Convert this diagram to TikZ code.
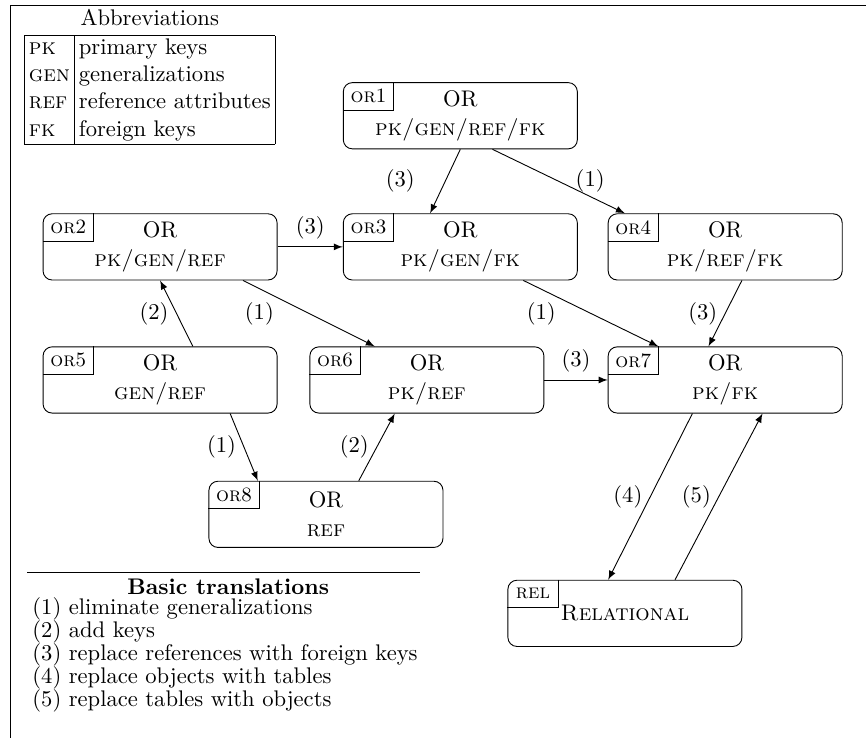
\documentclass[tikz,border=0pt]{standalone}
\usepackage{tikz}

\begin{document}
\begin{tikzpicture}[
  model/.style={draw, rounded corners, minimum width=3.64cm, minimum height=1.03cm, align=center},
  tag/.style={anchor=north west, minimum width=0.78cm, minimum height=0.42cm, inner sep=1pt, font=\small},
  trans/.style={-latex}]
\useasboundingbox (0,0) rectangle (13.47,-11.48);
% Frame on top and left
\draw (13.47,-0.08) -- (0.16,-0.08) -- (0.16,-11.48);
% Abbreviations
\node (abbrtitle) at (2.33,-0.28) {Abbreviations};
\node[inner sep=0pt] (abbr) at (2.33,-1.40) {\setlength{\tabcolsep}{2pt}%
  \begin{tabular}{|l|l|}\hline
  \textsc{pk}  & primary keys\\
  \textsc{gen} & generalizations\\
  \textsc{ref} & reference attributes\\
  \textsc{fk}  & foreign keys\\\hline
  \end{tabular}};
% Models
\node[model] (or1) at (7.16,-1.80) {OR\\[1pt]\textsc{pk/gen/ref/fk}};
\node[model] (or2) at (2.49,-3.84) {OR\\[1pt]\textsc{pk/gen/ref}};
\node[model] (or3) at (7.16,-3.84) {OR\\[1pt]\textsc{pk/gen/fk}};
\node[model] (or4) at (11.28,-3.84) {OR\\[1pt]\textsc{pk/ref/fk}};
\node[model] (or5) at (2.49,-5.91) {OR\\[1pt]\textsc{gen/ref}};
\node[model] (or6) at (6.64,-5.91) {OR\\[1pt]\textsc{pk/ref}};
\node[model] (or7) at (11.28,-5.91) {OR\\[1pt]\textsc{pk/fk}};
\node[model] (or8) at (5.07,-8.00) {OR\\[1pt]\textsc{ref}};
\node[model] (rel) at (9.72,-9.54) {\textsc{Relational}};
% Tags in the corners
\foreach \i in {1,...,8} {
  \node[tag] (tag\i) at (or\i.north west) {\textsc{or}\i};
  \draw (tag\i.north east) |- (tag\i.south west);
}
\node[tag] (tagrel) at (rel.north west) {\textsc{rel}};
\draw (tagrel.north east) |- (tagrel.south west);
% Translations
\draw[trans] (or1.south) -- node[left=10pt] {(3)} ([xshift=-0.47cm]or3.north);
\draw[trans] ([xshift=0.50cm]or1.south) -- node[right=4pt] {(1)} ([xshift=-1.56cm]or4.north);
\draw[trans] (or2) -- node[above] {(3)} (or3);
\draw[trans] ([xshift=1.29cm]or2.south) -- node[left=12pt] {(1)} ([xshift=-0.81cm]or6.north);
\draw[trans] ([xshift=0.98cm]or3.south) -- node[left=12pt] {(1)} ([xshift=-1.04cm]or7.north);
\draw[trans] ([xshift=0.26cm]or4.south) -- node[left] {(3)} ([xshift=-0.26cm]or7.north);
\draw[trans] ([xshift=0.51cm]or5.north) -- node[left] {(2)} (or2.south);
\draw[trans] (or6) -- node[above] {(3)} (or7);
\draw[trans] ([xshift=1.09cm]or5.south) -- node[left] {(1)} ([xshift=-1.06cm]or8.north);
\draw[trans] ([xshift=0.51cm]or8.north) -- node[left] {(2)} ([xshift=-0.50cm]or6.south);
\draw[trans] ([xshift=-0.51cm]or7.south) -- node[left] {(4)} ([xshift=-0.26cm]rel.north);
\draw[trans] ([xshift=0.78cm]rel.north) -- node[left] {(5)} ([xshift=0.58cm]or7.south);
% Legend of the translations
\draw (0.42,-8.90) -- (6.53,-8.90);
\node (basic) at (3.55,-9.12) {\textbf{Basic translations}};
\foreach \i/\t in {1/eliminate generalizations, 2/add keys,
    3/replace references with foreign keys, 4/replace objects with tables,
    5/replace tables with objects}
  \node[anchor=west] (step\i) at (0.38,{-9.47-0.358*(\i-1)}) {(\i) \t};
\end{tikzpicture}
\end{document}
